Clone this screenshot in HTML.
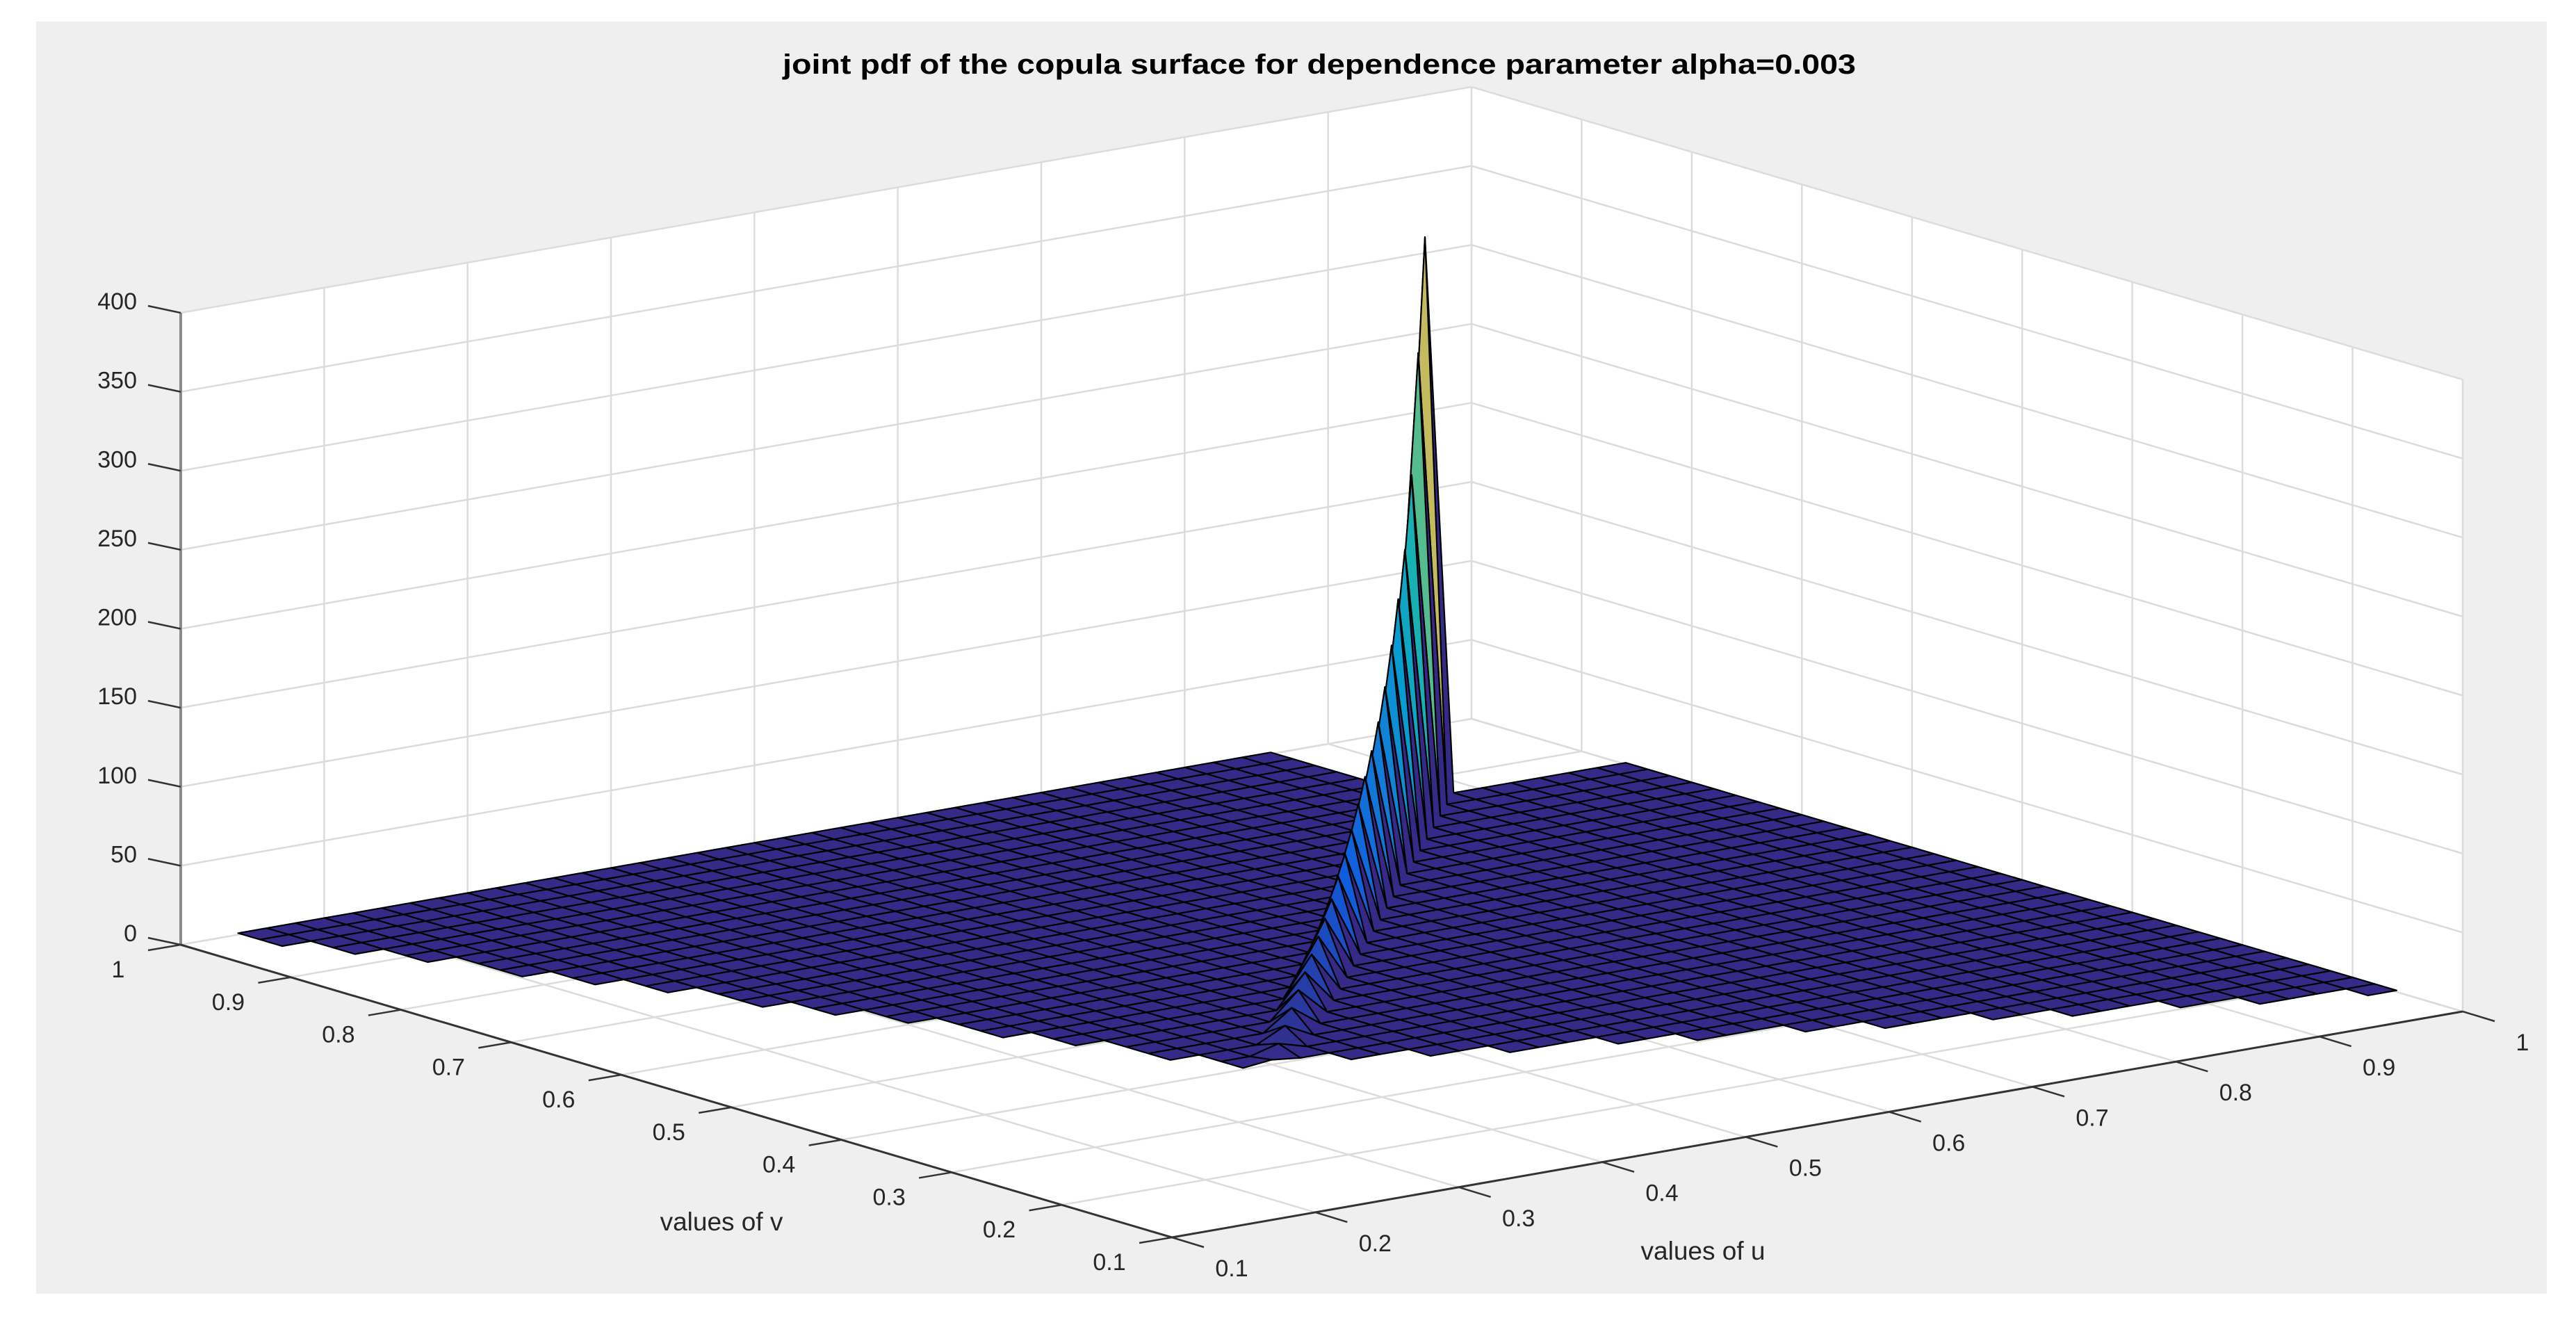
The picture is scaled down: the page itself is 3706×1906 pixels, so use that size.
<!DOCTYPE html>
<html><head><meta charset="utf-8"><style>
html,body{margin:0;padding:0;background:#fff;}
svg{display:block;}
text{font-family:"Liberation Sans",Arial,sans-serif;}
</style></head><body>
<svg id="chart" xmlns="http://www.w3.org/2000/svg" width="3706" height="1906" viewBox="0 0 3706 1906">
<rect x="52" y="31" width="3612" height="1830" fill="#efefef"/>
<text x="1898" y="106" text-anchor="middle" font-size="40" font-weight="bold" fill="#000" textLength="1544" lengthAdjust="spacingAndGlyphs">joint pdf of the copula surface for dependence parameter alpha=0.003</text>
<g id="walls"></g>
<g id="grid"></g>
<g id="axes"></g>
<g id="surf"></g>
<text x="2450" y="1812" text-anchor="middle" font-size="37" fill="#262626">values of u</text>
<text x="1038" y="1770" text-anchor="middle" font-size="37" fill="#262626">values of v</text>
</svg>
<script>
// ---- data ----
const uTicks = [0.1,0.2,0.3,0.4,0.5,0.6,0.7,0.8,0.9,1];
const vTicks = [0.1,0.2,0.3,0.4,0.5,0.6,0.7,0.8,0.9,1];
const zTicks = [0,50,100,150,200,250,300,350,400];
const uTickLabels = ["0.1","0.2","0.3","0.4","0.5","0.6","0.7","0.8","0.9","1"];
const vTickLabels = ["0.1","0.2","0.3","0.4","0.5","0.6","0.7","0.8","0.9","1"];
const zTickLabels = ["0","50","100","150","200","250","300","350","400"];
const gridStep = 0.02;
const gridCount = 46;
const baseDensity = 1;
// pdf on the diagonal u=v, by diagonal sample index 15..38
const ridgeStart = 15;
const ridgeZ = [3,6,10,14,18,22,26,30,34,39,46,53,61,70,80,89,100,115,134,156,180,220,290,356];
const rowStart = [46,46,46,44,41,39,36,34,31,29,26,24,21,19,17,14,14,13,13,13,12,12,11,11,11,10,10,9,9,8,8,8,7,7,6,6,5,5,5,4,4,3,3,2,2,2];
const rowEnd = [45,45,45,45,45,45,45,45,45,45,45,45,45,45,45,45,45,45,45,45,45,45,45,45,45,45,45,45,45,45,45,45,45,45,45,45,45,45,38,38,38,38,38,38,38,38];

const F = [1686,1780], dU = [1857,-325], dV = [-1426,-421], zS = 2.2725;
const uMin=0.1,uMax=1,vMin=0.1,vMax=1;
function P(u,v,z){const a=(u-uMin)/(uMax-uMin), b=(v-vMin)/(vMax-vMin);
  return [F[0]+a*dU[0]+b*dV[0], F[1]+a*dU[1]+b*dV[1]-z*zS];}
const NS='http://www.w3.org/2000/svg';
function mk(tag,attrs,parent){const e=document.createElementNS(NS,tag);for(const k in attrs)e.setAttribute(k,attrs[k]);parent.appendChild(e);return e;}
function pts(a){return a.map(p=>p[0].toFixed(1)+','+p[1].toFixed(1)).join(' ');}

const walls=document.getElementById('walls'),grid=document.getElementById('grid'),axes=document.getElementById('axes'),surf=document.getElementById('surf');
const zTop=zTicks[zTicks.length-1];
let w;
w=mk('polygon',{points:pts([P(uMin,vMax,0),P(uMax,vMax,0),P(uMax,vMax,zTop),P(uMin,vMax,zTop)]),fill:'#fff'},walls);


w=mk('polygon',{points:pts([P(uMax,vMin,0),P(uMax,vMax,0),P(uMax,vMax,zTop),P(uMax,vMin,zTop)]),fill:'#fff'},walls);


w=mk('polygon',{points:pts([P(uMin,vMin,0),P(uMax,vMin,0),P(uMax,vMax,0),P(uMin,vMax,0)]),fill:'#fff'},walls);



function gl(p,q,name){const l=mk('line',{x1:p[0],y1:p[1],x2:q[0],y2:q[1],stroke:'#dcdcdc','stroke-width':2.5},grid);
  
  }
zTicks.forEach(z=>{gl(P(uMin,vMax,z),P(uMax,vMax,z),'z-gridline');gl(P(uMax,vMax,z),P(uMax,vMin,z),'z-gridline');});
uTicks.forEach(u=>{gl(P(u,vMax,0),P(u,vMax,zTop),'u-gridline');gl(P(u,vMin,0),P(u,vMax,0),'u-gridline');});
vTicks.forEach(v=>{gl(P(uMax,v,0),P(uMax,v,zTop),'v-gridline');gl(P(uMin,v,0),P(uMax,v,0),'v-gridline');});

function al(p,q,name,col,wd){const l=mk('line',{x1:p[0],y1:p[1],x2:q[0],y2:q[1],stroke:col,'stroke-width':wd},axes);
  
  }
al(P(uMin,vMax,0),P(uMin,vMax,zTop),'z-axis-line','#8a8a8a',4);
al(P(uMin,vMin,0),P(uMin,vMax,0),'v-axis-line','#333',3);
al(P(uMin,vMin,0),P(uMax,vMin,0),'u-axis-line','#333',3);
function tx(x,y,s,anchor,name){const t=mk('text',{x:x,y:y,'text-anchor':anchor,'font-size':34,fill:'#262626'},axes);t.textContent=s;
  
  }
zTicks.forEach((z,i)=>{const p=P(uMin,vMax,z);al(p,[p[0]-47,p[1]-10],'z-tick','#333',2.5);tx(p[0]-63,p[1]-5,zTickLabels[i],'end','z-tick-label');});
vTicks.forEach((v,i)=>{const p=P(uMin,v,0);al(p,[p[0]-47,p[1]+8],'v-tick','#333',2.5);tx(p[0]-90,p[1]+47,vTickLabels[i],'middle','v-tick-label');});
uTicks.forEach((u,i)=>{const p=P(u,vMin,0);al(p,[p[0]+46,p[1]+14],'u-tick','#333',2.5);tx(p[0]+86,p[1]+56,uTickLabels[i],'middle','u-tick-label');});

const Z=[];
for(let j=0;j<gridCount;j++){Z.push([]);for(let i=0;i<gridCount;i++){
  let z=baseDensity; if(i===j && i>=ridgeStart && i-ridgeStart<ridgeZ.length) z=ridgeZ[i-ridgeStart]; Z[j].push(z);}}
let zmin=Infinity,zmax=-Infinity;Z.forEach(r=>r.forEach(z=>{zmin=Math.min(zmin,z);zmax=Math.max(zmax,z);}));
const parula=[[53,42,135],[15,92,221],[18,125,216],[7,156,207],[21,177,180],[89,189,140],[165,190,107],[225,185,82],[249,251,14]];
function cmap(t){t=Math.max(0,Math.min(1,t))*(parula.length-1);const k=Math.min(parula.length-2,Math.floor(t)),f=t-k;
  const c=parula[k].map((x,m)=>Math.round(x+(parula[k+1][m]-x)*f));return 'rgb('+c.join(',')+')';}
const cells=[];
for(let j=0;j<gridCount-1;j++)for(let i=0;i<gridCount-1;i++){if(i>=rowStart[j] && i<rowEnd[j])cells.push([i,j]);}
cells.sort((A,B)=>(B[0]+B[1])-(A[0]+A[1]));
const uv=k=>uMin+k*gridStep;
cells.forEach(([i,j])=>{
  const zs=[Z[j][i],Z[j][i+1],Z[j+1][i+1],Z[j+1][i]];
  const c=[P(uv(i),uv(j),zs[0]),P(uv(i+1),uv(j),zs[1]),P(uv(i+1),uv(j+1),zs[2]),P(uv(i),uv(j+1),zs[3])];
  const cz=zs[0];
  const p=mk('polygon',{points:pts(c),fill:cmap((cz-zmin)/(zmax-zmin)),stroke:'#000','stroke-width':2.2,'stroke-linejoin':'round'},surf);
  
  
});
</script>
</body></html>
